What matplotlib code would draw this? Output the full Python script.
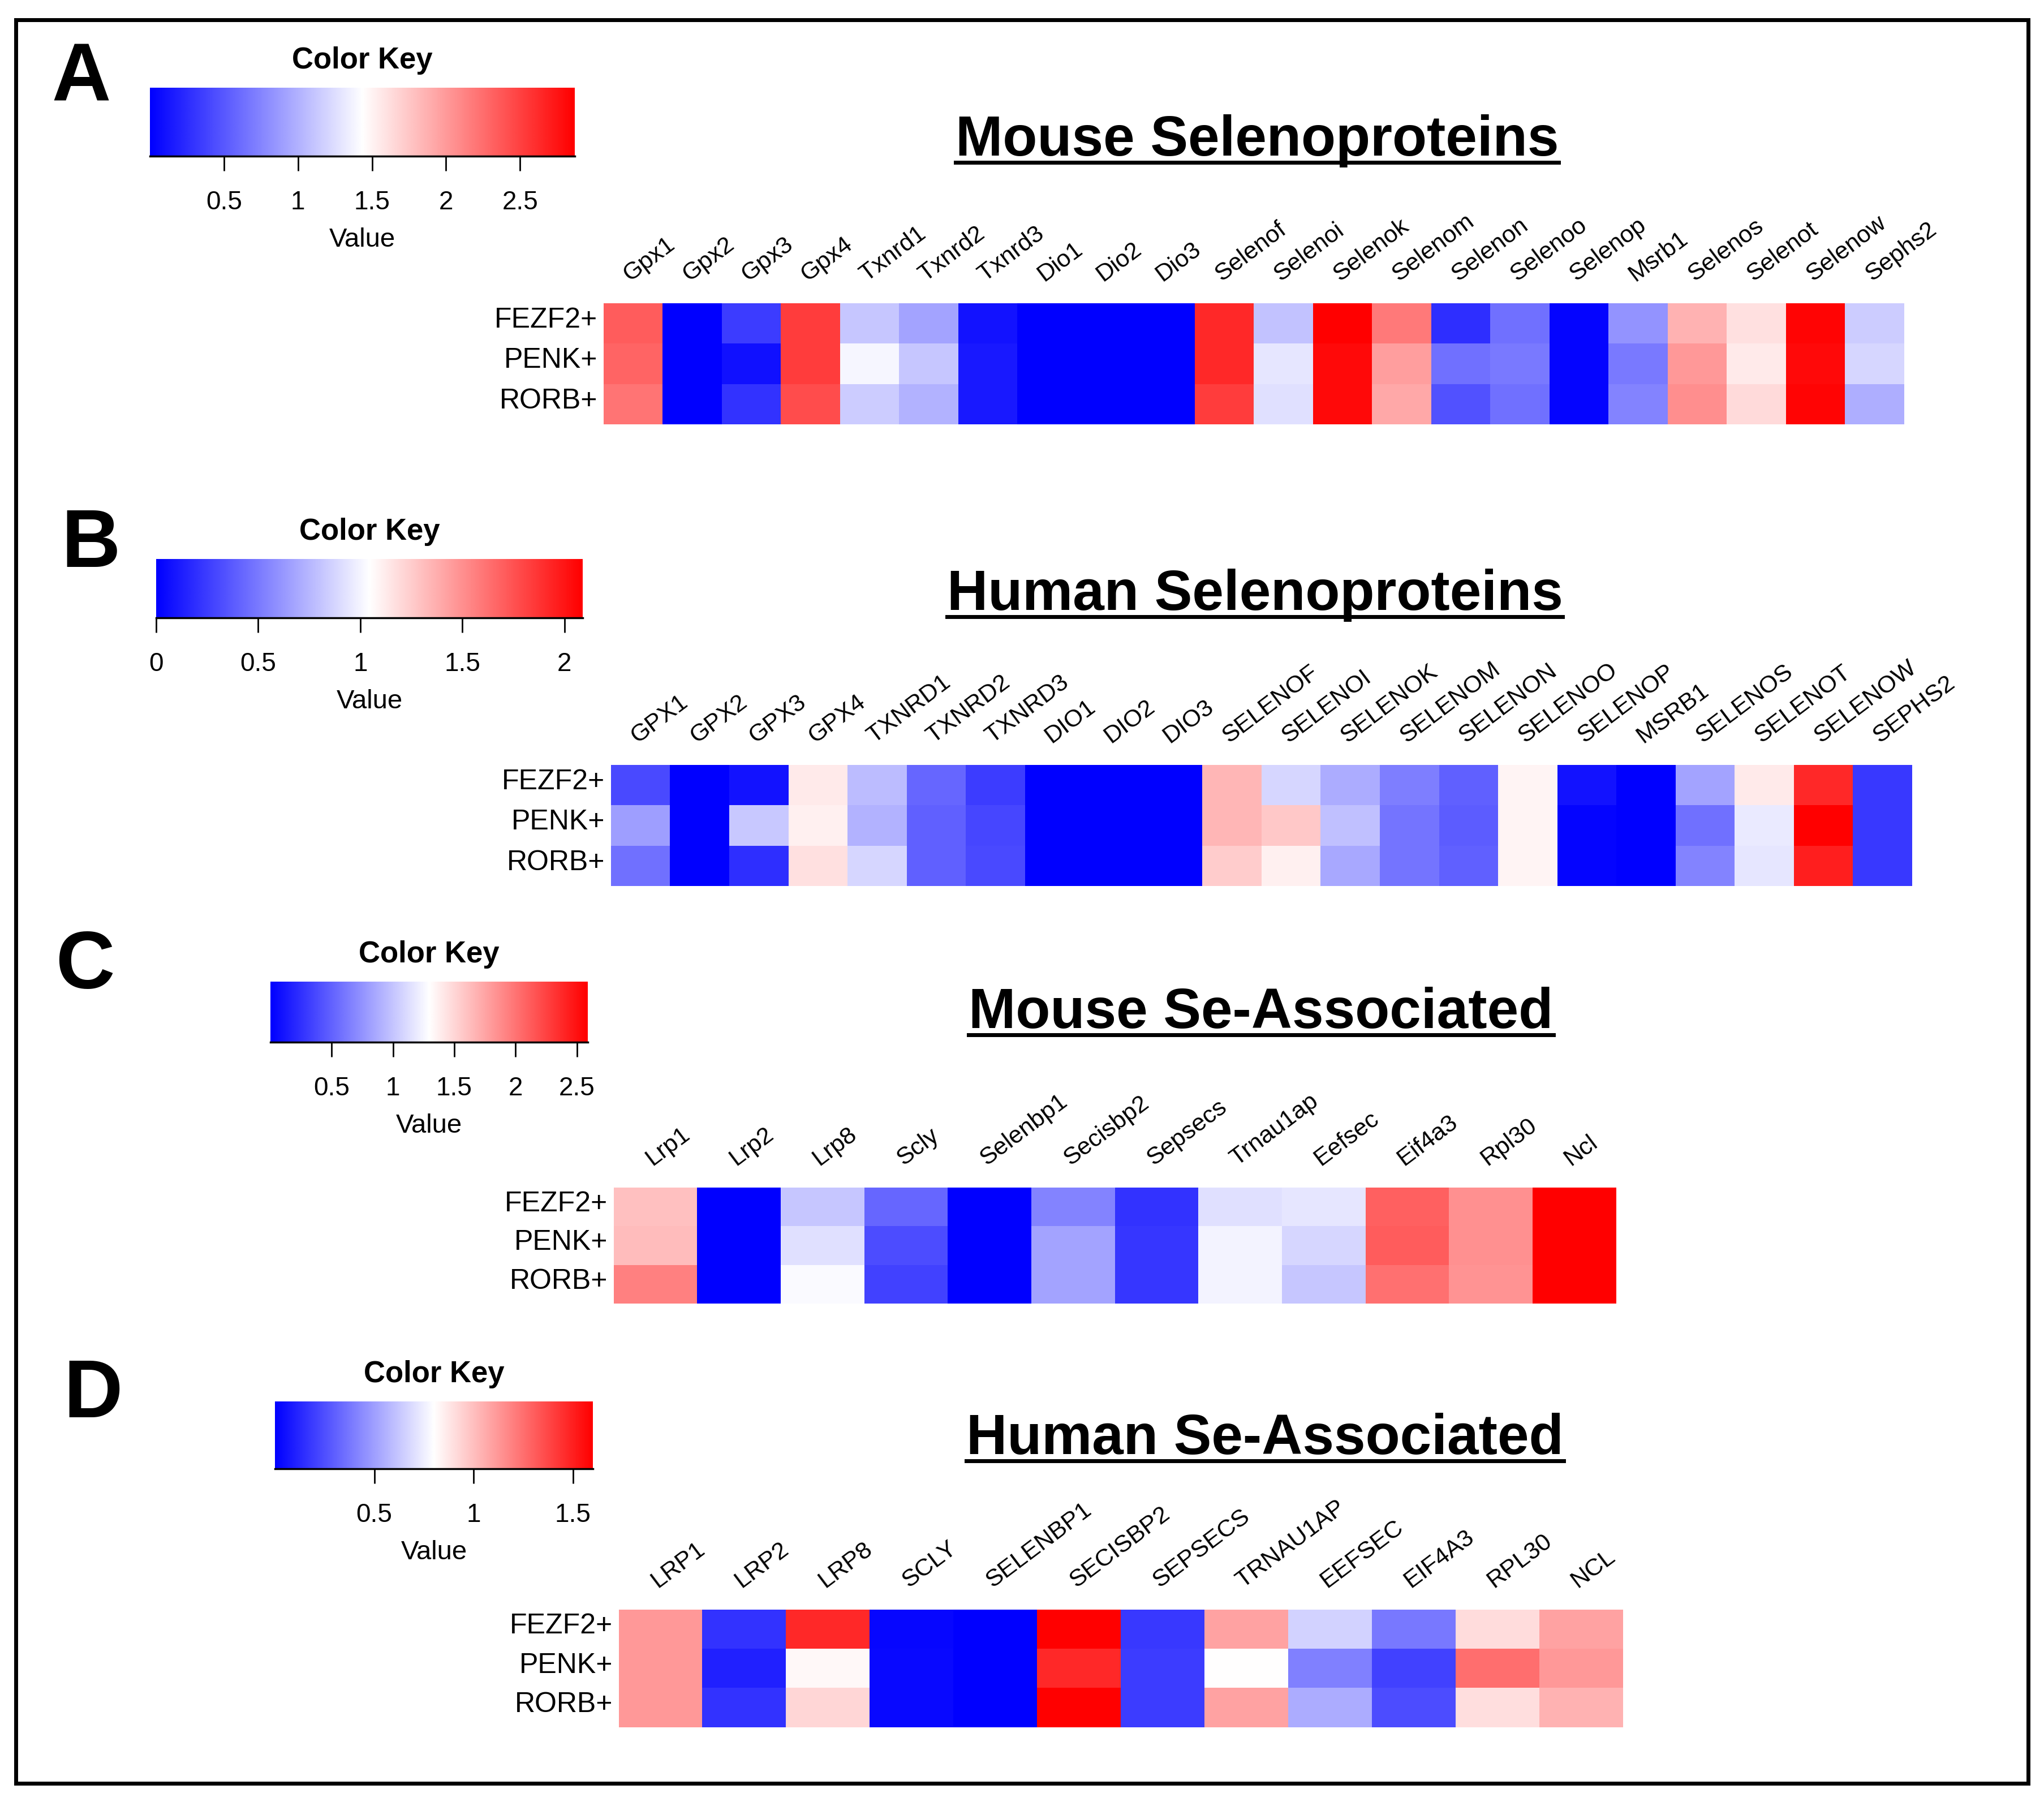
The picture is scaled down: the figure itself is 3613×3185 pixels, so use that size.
import numpy as np
import matplotlib
matplotlib.use('Agg')
import matplotlib.pyplot as plt
from matplotlib.patches import Rectangle
from matplotlib.lines import Line2D

plt.rcParams['font.family'] = ['Liberation Sans', 'DejaVu Sans']

# Data
cell_types = ['FEZF2+', 'PENK+', 'RORB+']

mouse_seleno_genes = ['Gpx1', 'Gpx2', 'Gpx3', 'Gpx4', 'Txnrd1', 'Txnrd2', 'Txnrd3', 'Dio1', 'Dio2', 'Dio3',
                      'Selenof', 'Selenoi', 'Selenok', 'Selenom', 'Selenon', 'Selenoo', 'Selenop', 'Msrb1',
                      'Selenos', 'Selenot', 'Selenow', 'Sephs2']
mouse_seleno_fezf2 = [2.35, 0.00, 0.34, 2.53, 1.12, 0.92, 0.11, 0.00, 0.00, 0.00, 2.64, 1.09, 2.87, 2.18, 0.26, 0.63, 0.03, 0.83, 1.87, 1.61, 2.84, 1.15]
mouse_seleno_penk = [2.30, 0.00, 0.09, 2.53, 1.38, 1.12, 0.14, 0.00, 0.00, 0.00, 2.64, 1.29, 2.81, 1.98, 0.63, 0.69, 0.03, 0.69, 2.01, 1.55, 2.81, 1.21]
mouse_seleno_rorb = [2.21, 0.00, 0.29, 2.44, 1.15, 1.00, 0.14, 0.00, 0.00, 0.00, 2.53, 1.26, 2.81, 1.92, 0.46, 0.63, 0.03, 0.75, 2.07, 1.64, 2.84, 0.98]
mouse_seleno_range = (0.0, 2.87)
mouse_seleno_ticks = [0.5, 1, 1.5, 2, 2.5]

human_seleno_genes = ['GPX1', 'GPX2', 'GPX3', 'GPX4', 'TXNRD1', 'TXNRD2', 'TXNRD3', 'DIO1', 'DIO2', 'DIO3',
                      'SELENOF', 'SELENOI', 'SELENOK', 'SELENOM', 'SELENON', 'SELENOO', 'SELENOP', 'MSRB1',
                      'SELENOS', 'SELENOT', 'SELENOW', 'SEPHS2']
human_seleno_fezf2 = [0.31, 0.00, 0.08, 1.13, 0.77, 0.42, 0.25, 0.00, 0.00, 0.00, 1.34, 0.88, 0.71, 0.52, 0.40, 1.09, 0.08, 0.00, 0.67, 1.13, 1.92, 0.23]
human_seleno_penk = [0.65, 0.00, 0.82, 1.11, 0.73, 0.40, 0.29, 0.00, 0.00, 0.00, 1.34, 1.27, 0.79, 0.48, 0.38, 1.09, 0.02, 0.00, 0.46, 0.96, 2.09, 0.23]
human_seleno_rorb = [0.46, 0.00, 0.19, 1.17, 0.88, 0.40, 0.31, 0.00, 0.00, 0.00, 1.25, 1.11, 0.69, 0.48, 0.40, 1.09, 0.02, 0.00, 0.54, 0.94, 1.96, 0.23]
human_seleno_range = (0.0, 2.09)
human_seleno_ticks = [0, 0.5, 1, 1.5, 2]

mouse_assoc_genes = ['Lrp1', 'Lrp2', 'Lrp8', 'Scly', 'Selenbp1', 'Secisbp2', 'Sepsecs', 'Trnau1ap',
                     'Eefsec', 'Eif4a3', 'Rpl30', 'Ncl']
mouse_assoc_fezf2 = [1.61, 0.00, 1.01, 0.52, 0.00, 0.67, 0.26, 1.14, 1.17, 2.10, 1.86, 2.59]
mouse_assoc_penk = [1.63, 0.00, 1.14, 0.39, 0.00, 0.83, 0.28, 1.24, 1.09, 2.12, 1.86, 2.59]
mouse_assoc_rorb = [1.94, 0.00, 1.27, 0.34, 0.00, 0.83, 0.28, 1.24, 1.01, 2.02, 1.84, 2.59]
mouse_assoc_range = (0.0, 2.59)
mouse_assoc_ticks = [0.5, 1, 1.5, 2, 2.5]

human_assoc_genes = ['LRP1', 'LRP2', 'LRP8', 'SCLY', 'SELENBP1', 'SECISBP2', 'SEPSECS', 'TRNAU1AP',
                     'EEFSEC', 'EIF4A3', 'RPL30', 'NCL']
human_assoc_fezf2 = [1.12, 0.16, 1.47, 0.02, 0.00, 1.60, 0.18, 1.09, 0.66, 0.38, 0.91, 1.09]
human_assoc_penk = [1.12, 0.10, 0.82, 0.03, 0.00, 1.47, 0.19, 0.80, 0.40, 0.21, 1.25, 1.12]
human_assoc_rorb = [1.12, 0.16, 0.93, 0.03, 0.00, 1.60, 0.19, 1.09, 0.54, 0.24, 0.90, 1.04]
human_assoc_range = (0.0, 1.6)
human_assoc_ticks = [0.5, 1, 1.5]

W, H = 3613, 3185


def box(x0, y0, x1, y1):
    # pixel box (top-left origin) -> figure fraction
    return [x0 / W, 1 - y1 / H, (x1 - x0) / W, (y1 - y0) / H]


def draw_heatmap(fig, rect, genes, rows, vrange):
    ax = fig.add_axes(box(*rect))
    data = np.array(rows)
    ax.imshow(data, cmap='bwr', vmin=vrange[0], vmax=vrange[1], aspect='auto', interpolation='nearest')
    ax.set_xticks(range(len(genes)))
    ax.set_xticklabels(genes, rotation=37, ha='left', rotation_mode='anchor', fontsize=31)
    ax.xaxis.tick_top()
    # row labels sit a touch above the row centres, as in the original
    ax.set_yticks(np.arange(len(cell_types)) - 0.15)
    ax.set_yticklabels(cell_types, fontsize=36)
    ax.set_ylim(len(cell_types) - 0.5, -0.5)
    ax.tick_params(length=0, pad=8)
    ax.tick_params(axis='x', pad=22)
    for s in ax.spines.values():
        s.set_visible(False)
    return ax


def draw_key(fig, rect, vrange, ticks):
    ax = fig.add_axes(box(*rect))
    grad = np.linspace(vrange[0], vrange[1], 512)[None, :]
    ax.imshow(grad, cmap='bwr', vmin=vrange[0], vmax=vrange[1], aspect='auto',
              extent=[vrange[0], vrange[1], 0, 1])
    ax.set_xlim(vrange)
    ax.set_yticks([])
    ax.set_xticks(ticks)
    ax.set_xticklabels([f'{t:g}' for t in ticks], fontsize=33)
    ax.tick_params(axis='x', length=19, width=2, pad=24)
    for k in ['top', 'left', 'right']:
        ax.spines[k].set_visible(False)
    ax.spines['bottom'].set_linewidth(2.5)
    x0, y0, x1, y1 = rect
    cx = (x0 + x1) / 2
    fig.text(cx / W, 1 - (y0 - 48) / H, 'Color Key', ha='center', va='center',
             fontsize=38, fontweight='bold')
    fig.text(cx / W, 1 - (y1 + 148) / H, 'Value', ha='center', va='center', fontsize=34)
    return ax


def draw_title(fig, cx, baseline, text):
    t = fig.text(cx / W, 1 - baseline / H, text, ha='center', va='baseline',
                 fontsize=72, fontweight='bold')
    return t


def main():
    fig = plt.figure(figsize=(W / 100, H / 100), dpi=100)

    # outer frame
    fig.patches.append(Rectangle((28 / W, 1 - 3152 / H), (3585 - 28) / W, (3152 - 35) / H,
                                 transform=fig.transFigure, fill=False, lw=5, ec='black'))

    panels = [
        ('A', (91, 177), (265, 155, 1016, 276), mouse_seleno_range, mouse_seleno_ticks,
         (2222, 275, 'Mouse Selenoproteins'), (1067, 536, 3366, 750),
         mouse_seleno_genes, [mouse_seleno_fezf2, mouse_seleno_penk, mouse_seleno_rorb]),
        ('B', (108, 1002), (276, 988, 1030, 1092), human_seleno_range, human_seleno_ticks,
         (2218, 1078, 'Human Selenoproteins'), (1080, 1352, 3380, 1566),
         human_seleno_genes, [human_seleno_fezf2, human_seleno_penk, human_seleno_rorb]),
        ('C', (98, 1747), (478, 1735, 1039, 1842), mouse_assoc_range, mouse_assoc_ticks,
         (2229, 1817, 'Mouse Se-Associated'), (1085, 2099, 2856, 2304),
         mouse_assoc_genes, [mouse_assoc_fezf2, mouse_assoc_penk, mouse_assoc_rorb]),
        ('D', (112, 2505), (486, 2477, 1048, 2596), human_assoc_range, human_assoc_ticks,
         (2236, 2570, 'Human Se-Associated'), (1094, 2845, 2868, 3053),
         human_assoc_genes, [human_assoc_fezf2, human_assoc_penk, human_assoc_rorb]),
    ]

    titles = []
    for letter, lpos, krect, vr, ticks, title, hrect, genes, rows in panels:
        fig.text(lpos[0] / W, 1 - lpos[1] / H, letter, ha='left', va='baseline',
                 fontsize=104, fontweight='bold')
        draw_key(fig, krect, vr, ticks)
        titles.append((draw_title(fig, *title), title[1]))
        draw_heatmap(fig, hrect, genes, rows, vr)

    # underline the titles
    fig.canvas.draw()
    renderer = fig.canvas.get_renderer()
    for t, baseline in titles:
        bb = t.get_window_extent(renderer)
        yy = 1 - (baseline + 12) / H
        fig.lines.append(Line2D([bb.x0 / W, bb.x1 / W], [yy, yy], transform=fig.transFigure,
                                color='black', lw=5))

    fig.savefig('out.png', dpi=100, facecolor='white')


if __name__ == '__main__':
    main()
